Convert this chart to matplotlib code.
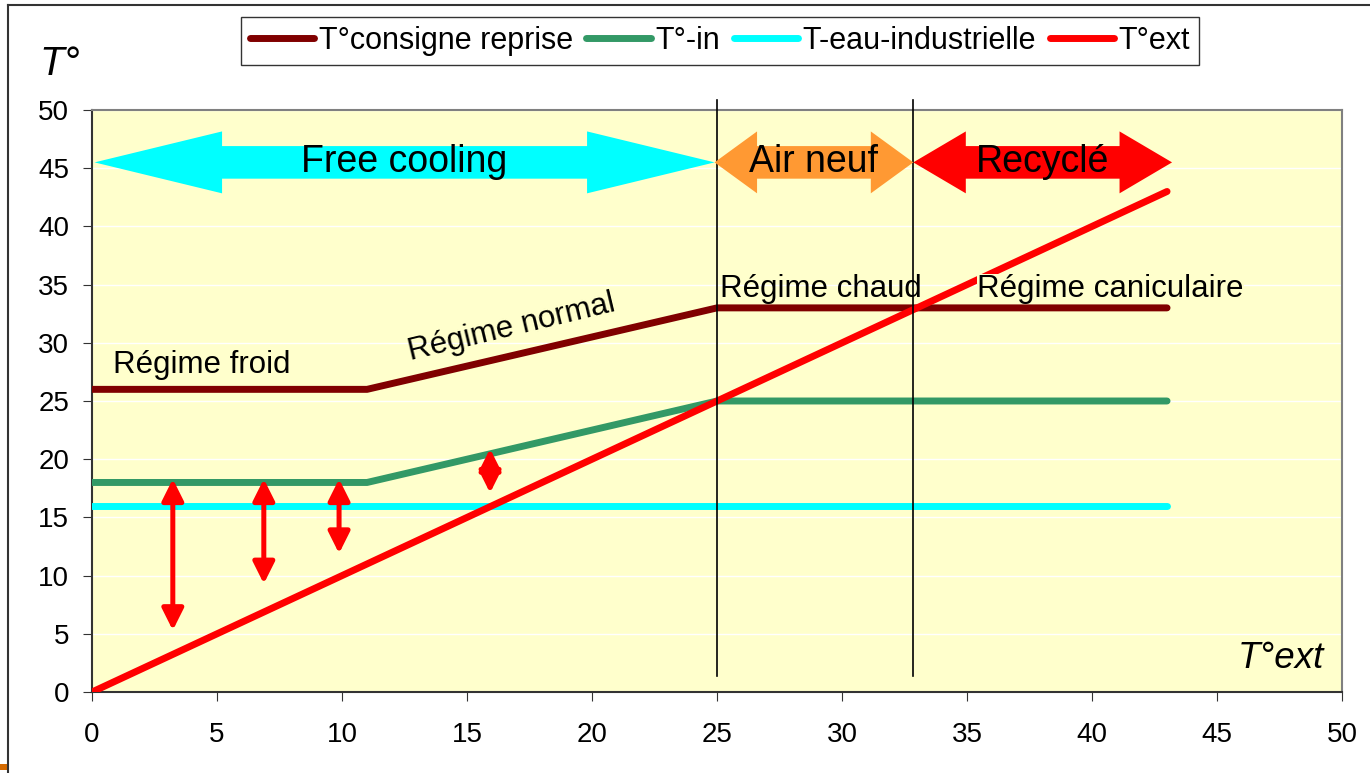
import matplotlib
matplotlib.use("Agg")
import matplotlib.pyplot as plt
from matplotlib.patches import Polygon, FancyArrowPatch, Rectangle
from matplotlib.lines import Line2D

plt.rcParams["font.family"] = ["Liberation Sans", "DejaVu Sans"]

# outside temperature steps
t_ext_x = list(range(0, 44))
t_ext = [0, 1, 2, 3, 4, 5, 6, 7, 8, 9, 10, 11, 12, 13, 14, 15, 16, 17, 18, 19, 20, 21,
         22, 23, 24, 25, 26, 27, 28, 29, 30, 31, 32, 33, 34, 35, 36, 37, 38, 39, 40, 41,
         42, 43]
t_consigne = [26, 26, 26, 26, 26, 26, 26, 26, 26, 26, 26, 26,
              26.5, 27, 27.5, 28, 28.5, 29, 29.5, 30, 30.5, 31, 31.5, 32, 32.5, 33,
              33, 33, 33, 33, 33, 33, 33, 33, 33, 33, 33, 33, 33, 33, 33, 33, 33, 33]
t_in = [18, 18, 18, 18, 18, 18, 18, 18, 18, 18, 18, 18,
        18.5, 19, 19.5, 20, 20.5, 21, 21.5, 22, 22.5, 23, 23.5, 24, 24.5, 25,
        25, 25, 25, 25, 25, 25, 25, 25, 25, 25, 25, 25, 25, 25, 25, 25, 25, 25]
t_eau = [16] * 44

series_names = ["T°consigne reprise", "T°-in", "T-eau-industrielle", "T°ext"]
series_colors = ["#800000", "#339966", "#00FFFF", "#FF0000"]

# mode boundaries and regions
boundaries = [25, 32.85]
modes = ["Free cooling", "Air neuf", "Recyclé"]
mode_start = [0.1, 24.9, 32.85]
mode_end = [24.9, 32.85, 43.2]
mode_colors = ["#00FFFF", "#FF9933", "#FF0000"]
mode_head = [5.1, 1.7, 2.1]

# gaps between T°-in and T°ext (x, top, bottom)
gap_x = [3.23, 6.87, 9.88, 15.92]
gap_top = [18.3, 18.3, 18.3, 20.9]
gap_bottom = [5.3, 9.3, 11.9, 17.1]

fig = plt.figure(figsize=(13.7, 7.73), dpi=100)
ax = fig.add_axes([0.0672, 0.1048, 0.9124, 0.7529])
ax.set_facecolor("#FFFFCC")
ax.set_xlim(0, 50)
ax.set_ylim(0, 50)
ax.set_xticks(range(0, 51, 5))
ax.set_yticks(range(0, 51, 5))
ax.tick_params(labelsize=20, length=6.5, direction="out", colors="#000000")
ax.tick_params(axis="y", pad=10)
ax.tick_params(axis="x", pad=15)
ax.tick_params(color="#333333")
ax.yaxis.grid(True, color="white", lw=1)
ax.set_axisbelow(True)
for side in ["top", "right"]:
    ax.spines[side].set_color("#808080")
    ax.spines[side].set_linewidth(1.5)
for side in ["left", "bottom"]:
    ax.spines[side].set_color("#333333")
    ax.spines[side].set_linewidth(1.5)

lines = []
for vals, name, col in zip([t_consigne, t_in, t_eau, t_ext], series_names, series_colors):
    ln, = ax.plot(t_ext_x, vals, color=col, lw=5, solid_capstyle="round",
                  solid_joinstyle="round", label=name, zorder=3)
    lines.append(ln)

for b in boundaries:
    ax.plot([b, b], [1.4, 50.9], color="black", lw=1.2, clip_on=False, zorder=4)

# block double arrows for the modes
yc, head_half, shaft_half = 45.5, 2.66, 1.4
for x0, x1, hl, col, name in zip(mode_start, mode_end, mode_head, mode_colors, modes):
    pts = [(x0, yc), (x0 + hl, yc + head_half), (x0 + hl, yc + shaft_half),
           (x1 - hl, yc + shaft_half), (x1 - hl, yc + head_half), (x1, yc),
           (x1 - hl, yc - head_half), (x1 - hl, yc - shaft_half),
           (x0 + hl, yc - shaft_half), (x0 + hl, yc - head_half)]
    ax.add_patch(Polygon(pts, closed=True, facecolor=col, edgecolor="none", zorder=5))
    ax.text((x0 + x1) / 2, yc, name, fontsize=27, ha="center", va="center", zorder=6)

for gx, gt, gb in zip(gap_x, gap_top, gap_bottom):
    arr = FancyArrowPatch((gx, gt), (gx, gb),
                          arrowstyle="<|-|>,head_length=13,head_width=6.5",
                          mutation_scale=1, color="#FF0000", lw=3.6,
                          shrinkA=0, shrinkB=0, zorder=5)
    ax.add_patch(arr)

ax.text(0.84, 28.1, "Régime froid", fontsize=22.5, va="center", ha="left", zorder=6)
ax.text(16.8, 31.3, "Régime normal", fontsize=22.5, va="center", ha="center",
        rotation=13.5, rotation_mode="anchor", zorder=6)
ax.text(25.1, 34.6, "Régime chaud", fontsize=22.5, va="center", ha="left", zorder=6)
ax.text(35.4, 34.6, "Régime caniculaire", fontsize=22.5, va="center", ha="left", zorder=6,
        bbox=dict(facecolor="#FFFFCC", edgecolor="none", pad=0))

ax.text(-1.3, 52.3, "T°", fontsize=29, style="italic", ha="center", va="bottom",
        clip_on=False)
ax.text(49.3, 1.4, "T°ext", fontsize=26.5, style="italic", ha="right", va="bottom")

leg = fig.legend(handles=lines, loc="upper center", bbox_to_anchor=(0.5255, 0.978),
                 ncol=4, fontsize=22, frameon=True, fancybox=False, handlelength=2.1,
                 handletextpad=0.15, columnspacing=0.45, borderpad=0.3,
                 borderaxespad=0)
leg.get_frame().set_edgecolor("black")
leg.get_frame().set_linewidth(1.0)

# outer frame of the chart area
fig.add_artist(Line2D([0.0058, 0.0058], [0.0, 0.9935], color="#333333", lw=1.5))
fig.add_artist(Line2D([0.0058, 1.0], [0.9935, 0.9935], color="#333333", lw=1.5))
fig.add_artist(Rectangle((0.0, 0.004), 0.0058, 0.008, transform=fig.transFigure,
                         facecolor="#D46A00", edgecolor="none"))

fig.savefig("out.png", dpi=100)
